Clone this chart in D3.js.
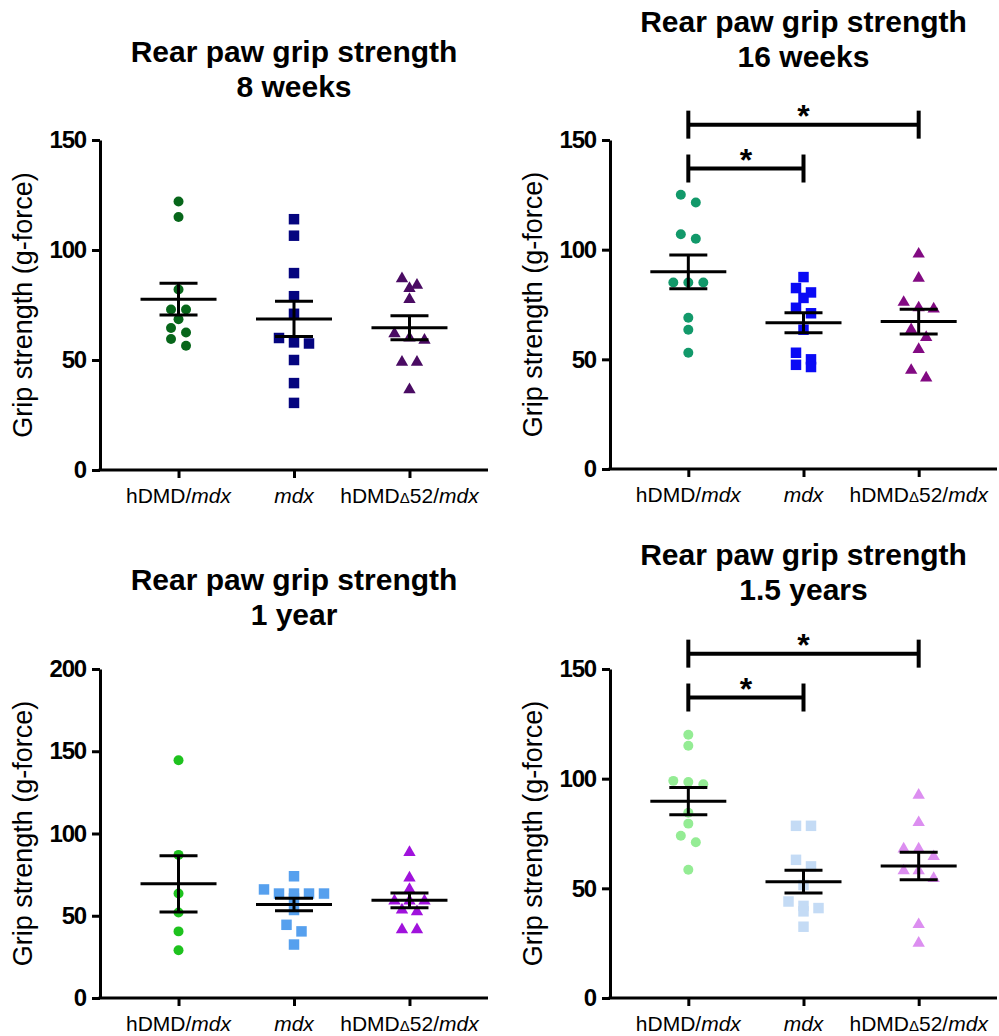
<!DOCTYPE html>
<html>
<head>
<meta charset="utf-8">
<script src="https://cdn.jsdelivr.net/npm/d3@7"></script>
<style>
  body { margin: 0; background: #fff; }
  svg text { font-family: "Liberation Sans", Arial, sans-serif; }
</style>
</head>
<body>
<svg id="chart" width="999" height="1036"></svg>
<script>
// categories (x axis)
const categories = ["hDMD/mdx", "mdx", "hDMD\u039452/mdx"];

// panel titles
const titles = [
  ["Rear paw grip strength", "8 weeks"],
  ["Rear paw grip strength", "16 weeks"],
  ["Rear paw grip strength", "1 year"],
  ["Rear paw grip strength", "1.5 years"]
];
const yLabel = "Grip strength (g-force)";

// grip strength values
const wk8_hDMD = [122, 115, 82, 73, 73, 68.5, 64.5, 62.5, 59.5, 56.5];
const wk8_mdx = [114, 106.5, 89.5, 79, 71, 60, 58, 57.5, 50, 39.5, 30.5];
const wk8_d52 = [87, 84, 82.5, 77.5, 62, 60, 59, 49, 49, 36.5];

const wk16_hDMD = [125, 121.5, 107, 105, 85, 85, 85, 69, 63.5, 53];
const wk16_mdx = [87.5, 82.5, 80.5, 78, 73.5, 71, 63.5, 53, 50, 47.5, 46.5];
const wk16_d52 = [98, 87, 76, 73.5, 73, 63.5, 60, 54.5, 45, 41.5];

const yr1_hDMD = [144.5, 87, 63.5, 52, 40.5, 29];
const yr1_mdx = [74, 66, 63.5, 63.5, 63.5, 63.5, 60.5, 53.5, 44.5, 40.5, 32.5];
const yr1_d52 = [88.5, 73, 66, 59, 59, 59, 53.5, 52.5, 41.5, 41.5];

const yr15_hDMD = [120, 115, 99, 98.5, 97.5, 84.5, 79.5, 74, 71, 58.5];
const yr15_mdx = [78.5, 78.5, 63, 60, 51.5, 44, 42, 41, 39.5, 32.5];
const yr15_d52 = [92.5, 80, 68, 68, 64.5, 58, 58, 54.5, 33.5, 25];

// y axis ticks
const ticks150 = [0, 50, 100, 150];
const ticks200 = [0, 50, 100, 150, 200];

// significance brackets (group index pairs, height in g-force)
const sigBrackets = [
  { from: 0, to: 2, level: 157, label: "*" },
  { from: 0, to: 1, level: 137, label: "*" }
];

const panels = [
  { title: titles[0], groups: [wk8_hDMD, wk8_mdx, wk8_d52], ticks: ticks150, max: 150,
    colors: ["#07661a", "#05057f", "#4a0b63"], x0: 100, x1: 488, yTop: 140, yBot: 470, titleY: 62, sig: [] },
  { title: titles[1], groups: [wk16_hDMD, wk16_mdx, wk16_d52], ticks: ticks150, max: 150,
    colors: ["#12996a", "#0a0af5", "#820a82"], x0: 610, x1: 997, yTop: 140, yBot: 469, titleY: 32, sig: sigBrackets },
  { title: titles[2], groups: [yr1_hDMD, yr1_mdx, yr1_d52], ticks: ticks200, max: 200,
    colors: ["#1ec21e", "#56a0ee", "#a012dc"], x0: 100, x1: 488, yTop: 669, yBot: 998, titleY: 590, sig: [] },
  { title: titles[3], groups: [yr15_hDMD, yr15_mdx, yr15_d52], ticks: ticks150, max: 150,
    colors: ["#94ec94", "#c4dbf5", "#dc8ef0"], x0: 610, x1: 997, yTop: 669, yBot: 998, titleY: 565, sig: sigBrackets }
];

const symbols = [d3.symbolCircle, d3.symbolSquare, d3.symbolTriangle];
const symSize = [78, 110, 66];

const svg = d3.select("#chart");

// arrange points side by side when they sit at nearly the same height
function swarm(vals, y, step) {
  const pts = vals.map(v => ({ v: v })).sort((a, b) => b.v - a.v);
  const rows = [];
  let cur = null;
  pts.forEach(p => {
    const py = y(p.v);
    if (cur && py - cur.y0 < 8.5) cur.items.push(p);
    else { cur = { y0: py, items: [p] }; rows.push(cur); }
  });
  rows.forEach(r => r.items.forEach((p, k) => { p.dx = (k - (r.items.length - 1) / 2) * step; }));
  return pts;
}

function catLabel(sel, name) {
  // "mdx" in italics, small delta
  const parts = name.split(/(mdx|\u0394)/).filter(s => s.length);
  parts.forEach(s => {
    const t = sel.append("tspan").text(s);
    if (s === "mdx") t.attr("font-style", "italic");
    if (s === "\u0394") t.attr("font-size", 15);
  });
}

panels.forEach(p => {
  const g = svg.append("g");

  const x = d3.scalePoint().domain(categories).range([p.x0, p.x1]).padding(0.68);
  const y = d3.scaleLinear().domain([0, p.max]).range([p.yBot, p.yTop]);

  // title
  const cx = (p.x0 + p.x1) / 2;
  p.title.forEach((t, i) => {
    g.append("text").attr("x", cx).attr("y", p.titleY + i * 35)
      .attr("text-anchor", "middle").attr("font-weight", "bold").attr("font-size", 30)
      .text(t);
  });

  // y axis
  const yAxis = g.append("g").attr("transform", `translate(${p.x0},0)`)
    .call(d3.axisLeft(y).tickValues(p.ticks).tickSize(8).tickSizeOuter(0).tickPadding(6));
  yAxis.select(".domain").attr("stroke-width", 3);
  yAxis.selectAll(".tick line").attr("stroke-width", 3);
  yAxis.selectAll(".tick text").attr("font-size", 24).attr("font-weight", "bold")
    .attr("font-family", "'Liberation Sans', Arial, sans-serif").attr("letter-spacing", -1.2).attr("fill", "#000");

  // x axis
  const xAxis = g.append("g").attr("transform", `translate(0,${p.yBot})`)
    .call(d3.axisBottom(x).tickSize(8).tickSizeOuter(0).tickFormat(""));
  xAxis.select(".domain").attr("stroke-width", 3)
    .attr("d", `M${p.x0 - 1.5},0H${p.x1}`);
  xAxis.selectAll(".tick line").attr("stroke-width", 3);
  categories.forEach(c => {
    const t = g.append("text").attr("x", x(c)).attr("y", p.yBot + 33)
      .attr("text-anchor", "middle").attr("font-size", 21);
    catLabel(t, c);
  });

  // y label
  g.append("text")
    .attr("transform", `translate(${p.x0 - 68},${(p.yTop + p.yBot) / 2}) rotate(-90)`)
    .attr("text-anchor", "middle").attr("font-size", 27)
    .text(yLabel);

  // points
  p.groups.forEach((vals, gi) => {
    const cat = categories[gi];
    const pts = swarm(vals, y, 15);
    g.append("g").selectAll("path").data(pts).enter().append("path")
      .attr("d", d3.symbol(symbols[gi], symSize[gi]))
      .attr("transform", d => `translate(${x(cat) + d.dx},${y(d.v)})`)
      .attr("fill", p.colors[gi]);

    // mean +/- SEM
    const m = d3.mean(vals);
    const sem = d3.deviation(vals) / Math.sqrt(vals.length);
    const eb = g.append("g").attr("stroke", "#000").attr("stroke-width", 3);
    eb.append("line").attr("x1", x(cat) - 38).attr("x2", x(cat) + 38).attr("y1", y(m)).attr("y2", y(m));
    eb.append("line").attr("x1", x(cat)).attr("x2", x(cat)).attr("y1", y(m - sem)).attr("y2", y(m + sem));
    [m - sem, m + sem].forEach(v => {
      eb.append("line").attr("x1", x(cat) - 19).attr("x2", x(cat) + 19).attr("y1", y(v)).attr("y2", y(v));
    });
  });

  // significance brackets
  p.sig.forEach(s => {
    const xa = x(categories[s.from]), xb = x(categories[s.to]), yy = y(s.level);
    const b = g.append("g").attr("stroke", "#000").attr("stroke-width", 4);
    b.append("line").attr("x1", xa).attr("x2", xb).attr("y1", yy).attr("y2", yy);
    [xa, xb].forEach(xx => {
      b.append("line").attr("x1", xx).attr("x2", xx).attr("y1", yy - 14).attr("y2", yy + 14);
    });
    g.append("text").attr("x", (xa + xb) / 2).attr("y", yy + 2)
      .attr("text-anchor", "middle").attr("font-weight", "bold").attr("font-size", 32)
      .text(s.label);
  });
});
</script>
</body>
</html>
